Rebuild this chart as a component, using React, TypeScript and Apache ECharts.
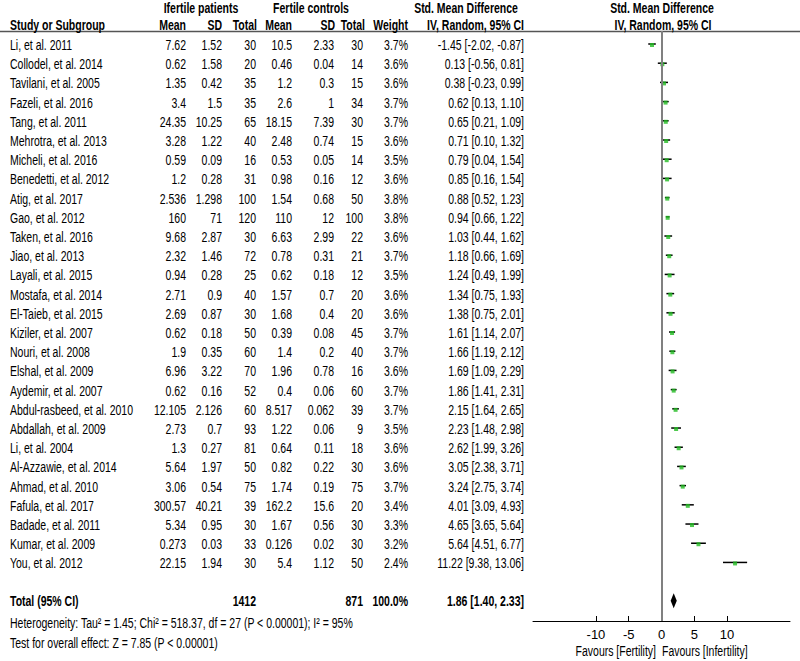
import React, { useEffect, useRef } from "react";
import * as echarts from "echarts";

const studies = [
  "Li, et al. 2011", "Collodel, et al. 2014", "Tavilani, et al. 2005", "Fazeli, et al. 2016",
  "Tang, et al. 2011", "Mehrotra, et al. 2013", "Micheli, et al. 2016", "Benedetti, et al. 2012",
  "Atig, et al. 2017", "Gao, et al. 2012", "Taken, et al. 2016", "Jiao, et al. 2013",
  "Layali, et al. 2015", "Mostafa, et al. 2014", "El-Taieb, et al. 2015", "Kiziler, et al. 2007",
  "Nouri, et al. 2008", "Elshal, et al. 2009", "Aydemir, et al. 2007", "Abdul-rasbeed, et al. 2010",
  "Abdallah, et al. 2009", "Li, et al. 2004", "Al-Azzawie, et al. 2014", "Ahmad, et al. 2010",
  "Fafula, et al. 2017", "Badade, et al. 2011", "Kumar, et al. 2009", "You, et al. 2012",
];
const infMean = ["7.62","0.62","1.35","3.4","24.35","3.28","0.59","1.2","2.536","160","9.68","2.32","0.94","2.71","2.69","0.62","1.9","6.96","0.62","12.105","2.73","1.3","5.64","3.06","300.57","5.34","0.273","22.15"];
const infSD = ["1.52","1.58","0.42","1.5","10.25","1.22","0.09","0.28","1.298","71","2.87","1.46","0.28","0.9","0.87","0.18","0.35","3.22","0.16","2.126","0.7","0.27","1.97","0.54","40.21","0.95","0.03","1.94"];
const infTotal = [30,20,35,35,65,40,16,31,100,120,30,72,25,40,30,50,60,70,52,60,93,81,50,75,39,30,33,30];
const ferMean = ["10.5","0.46","1.2","2.6","18.15","2.48","0.53","0.98","1.54","110","6.63","0.78","0.62","1.57","1.68","0.39","1.4","1.96","0.4","8.517","1.22","0.64","0.82","1.74","162.2","1.67","0.126","5.4"];
const ferSD = ["2.33","0.04","0.3","1","7.39","0.74","0.05","0.16","0.68","12","2.99","0.31","0.18","0.7","0.4","0.08","0.2","0.78","0.06","0.062","0.06","0.11","0.22","0.19","15.6","0.56","0.02","1.12"];
const ferTotal = [30,14,15,34,30,15,14,12,50,100,22,21,12,20,20,45,40,16,60,39,9,18,30,75,20,30,30,50];
const weights = [3.7,3.6,3.6,3.7,3.7,3.6,3.5,3.6,3.8,3.8,3.6,3.7,3.5,3.6,3.6,3.7,3.7,3.6,3.7,3.7,3.5,3.6,3.6,3.7,3.4,3.3,3.2,2.4];
const smd = [-1.45,0.13,0.38,0.62,0.65,0.71,0.79,0.85,0.88,0.94,1.03,1.18,1.24,1.34,1.38,1.61,1.66,1.69,1.86,2.15,2.23,2.62,3.05,3.24,4.01,4.65,5.64,11.22];
const ciLow = [-2.02,-0.56,-0.23,0.13,0.21,0.10,0.04,0.16,0.52,0.66,0.44,0.66,0.49,0.75,0.75,1.14,1.19,1.09,1.41,1.64,1.48,1.99,2.38,2.75,3.09,3.65,4.51,9.38];
const ciHigh = [-0.87,0.81,0.99,1.10,1.09,1.32,1.54,1.54,1.23,1.22,1.62,1.69,1.99,1.93,2.01,2.07,2.12,2.29,2.31,2.65,2.98,3.26,3.71,3.74,4.93,5.64,6.77,13.06];

const totalInf = 1412;
const totalFer = 871;
const totalWeight = 100.0;
const totalSmd = 1.86;
const totalLow = 1.4;
const totalHigh = 2.33;
const totalRow = 29;

const xTicks = [-10, -5, 0, 5, 10];
const heterogeneity = "Heterogeneity: Tau\u00b2 = 1.45; Chi\u00b2 = 518.37, df = 27 (P < 0.00001); I\u00b2 = 95%";
const overallTest = "Test for overall effect: Z = 7.85 (P < 0.00001)";

const FONT = "'Liberation Sans', Arial, sans-serif";
const FS = 14;
const SX = 0.75;

export default function App() {
  const ref = useRef<HTMLDivElement>(null);
  useEffect(() => {
    if (!ref.current) return;
    const chart = echarts.init(ref.current, null, { renderer: "svg" });

    const t = (text: string, x: number, y: number, align: string, bold = false) => ({
      type: "text",
      x,
      y,
      scaleX: SX,
      style: {
        text,
        fill: "#000",
        font: `${bold ? "bold " : ""}${FS}px ${FONT}`,
        textAlign: align,
        textVerticalAlign: "middle",
      },
    });

    const fmt2 = (v: number) => v.toFixed(2);

    const rows = studies.map((s, i) => [0, i]);

    const option: any = {
      animation: false,
      grid: { left: 533, width: 257, top: 31, height: 590, containLabel: false },
      xAxis: {
        type: "value",
        min: -19.6,
        max: 19.6,
        axisLine: { onZero: false, lineStyle: { color: "#000", width: 1 } },
        axisTick: { show: true, inside: true, length: 5, customValues: xTicks, lineStyle: { color: "#000" } },
        axisLabel: { customValues: xTicks, color: "#000", fontSize: 13, fontFamily: FONT, margin: 7 },
        splitLine: { show: false },
      },
      yAxis: {
        type: "value",
        inverse: true,
        min: -0.677,
        max: 30.05,
        show: false,
      },
      series: [
        {
          type: "custom",
          name: "ci",
          clip: false,
          data: smd.map((v, i) => [ciLow[i], ciHigh[i], i, v]),
          encode: { x: [0, 1, 3], y: 2 },
          renderItem: (params: any, api: any) => {
            const lo = api.coord([api.value(0), api.value(2)]);
            const hi = api.coord([api.value(1), api.value(2)]);
            return {
              type: "line",
              shape: { x1: lo[0], y1: lo[1], x2: hi[0], y2: hi[1] },
              style: { stroke: "#000", lineWidth: 1.5 },
            };
          },
          markLine: {
            silent: true,
            symbol: "none",
            label: { show: false },
            lineStyle: { color: "#808080", width: 2, type: "solid" },
            data: [{ xAxis: 0 }],
          },
          z: 2,
        },
        {
          type: "scatter",
          name: "smd",
          data: smd.map((v, i) => [v, i]),
          symbol: "rect",
          symbolSize: [4, 4],
          symbolOffset: [0, 1],
          itemStyle: { color: "#22bb22" },
          z: 3,
        },
        {
          type: "custom",
          name: "total",
          clip: false,
          data: [[totalLow, totalHigh, totalRow, totalSmd]],
          encode: { x: [0, 1, 3], y: 2 },
          renderItem: (params: any, api: any) => {
            const lo = api.coord([api.value(0), api.value(2)]);
            const hi = api.coord([api.value(1), api.value(2)]);
            const mid = api.coord([api.value(3), api.value(2)]);
            const h = 7.5;
            return {
              type: "polygon",
              shape: { points: [[lo[0], lo[1]], [mid[0], mid[1] - h], [hi[0], hi[1]], [mid[0], mid[1] + h]] },
              style: { fill: "#000" },
            };
          },
          z: 3,
        },
        {
          type: "custom",
          name: "table",
          clip: false,
          silent: true,
          data: rows,
          encode: { x: 0, y: 1 },
          renderItem: (params: any, api: any) => {
            const i = params.dataIndex;
            const y = api.coord([0, api.value(1)])[1] + 1.5;
            return {
              type: "group",
              children: [
                t(studies[i], 10, y, "left"),
                t(infMean[i], 186, y, "right"),
                t(infSD[i], 222, y, "right"),
                t(String(infTotal[i]), 256, y, "right"),
                t(ferMean[i], 292, y, "right"),
                t(ferSD[i], 334, y, "right"),
                t(String(ferTotal[i]), 363, y, "right"),
                t(weights[i].toFixed(1) + "%", 408, y, "right"),
                t(`${fmt2(smd[i])} [${fmt2(ciLow[i])}, ${fmt2(ciHigh[i])}]`, 524, y, "right"),
              ],
            };
          },
        },
        {
          type: "custom",
          name: "totalText",
          clip: false,
          silent: true,
          data: [[0, totalRow]],
          encode: { x: 0, y: 1 },
          renderItem: (params: any, api: any) => {
            const y = api.coord([0, api.value(1)])[1] + 1;
            return {
              type: "group",
              children: [
                t("Total (95% CI)", 10, y, "left", true),
                t(String(totalInf), 256, y, "right", true),
                t(String(totalFer), 363, y, "right", true),
                t(totalWeight.toFixed(1) + "%", 408, y, "right", true),
                t(`${fmt2(totalSmd)} [${fmt2(totalLow)}, ${fmt2(totalHigh)}]`, 524, y, "right", true),
              ],
            };
          },
        },
      ],
      graphic: [
        {
          type: "line",
          shape: { x1: 0, y1: 31.5, x2: 800, y2: 31.5 },
          style: { stroke: "#555", lineWidth: 1.5 },
        },
        t("Ifertile patients", 201, 8, "center", true),
        t("Fertile controls", 311, 8, "center", true),
        t("Std. Mean Difference", 466, 8, "center", true),
        t("Std. Mean Difference", 662, 8, "center", true),
        t("Study or Subgroup", 10, 25, "left", true),
        t("Mean", 186, 25, "right", true),
        t("SD", 222, 25, "right", true),
        t("Total", 257, 25, "right", true),
        t("Mean", 292, 25, "right", true),
        t("SD", 335, 25, "right", true),
        t("Total", 365, 25, "right", true),
        t("Weight", 408, 25, "right", true),
        t("IV, Random, 95% CI", 524, 25, "right", true),
        t("IV, Random, 95% CI", 663, 25, "center", true),
        t(heterogeneity, 10, 623, "left"),
        t(overallTest, 10, 643, "left"),
        t("Favours [Fertility]", 656, 651, "right"),
        t("Favours [Infertility]", 662, 651, "left"),
      ],
    };
    chart.setOption(option);
    return () => chart.dispose();
  }, []);
  return (
    <div
      ref={ref}
      style={{ position: "fixed", left: 0, top: 0, width: 800, height: 661, background: "#fff" }}
    />
  );
}
